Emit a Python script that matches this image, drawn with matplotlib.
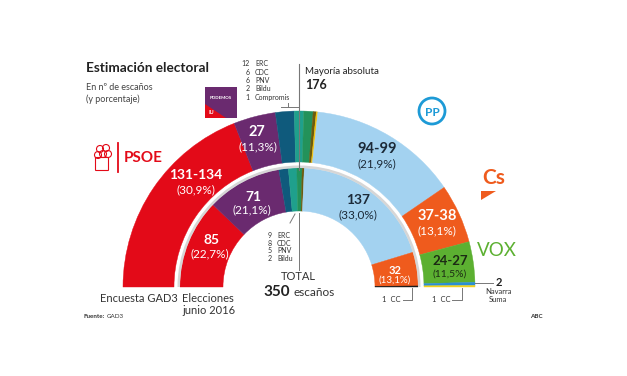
import matplotlib.pyplot as plt
from matplotlib.patches import Wedge, Circle, Rectangle, Polygon, FancyBboxPatch

plt.rcParams['font.family'] = ['Lato', 'DejaVu Sans']

# seats per party, left to right along the arc (350 in total)
outer_parties = ['PSOE', 'Podemos', 'ERC', 'CDC', 'PNV', 'Bildu', 'Compromis', 'PP', 'Cs', 'VOX', 'Navarra Suma', 'CC']
outer_seats = [133, 27, 12, 6, 6, 2, 1, 96, 38, 26, 2, 1]
outer_colors = ['#e30a18', '#6a2a6f', '#0f5a7c', '#1fa08c', '#23925a', '#6c5b0e', '#f4c20d',
                '#a3d2f0', '#ef5b1d', '#5cb031', '#2a8fd3', '#f3d21b']

inner_parties = ['PSOE', 'Podemos', 'ERC', 'CDC', 'PNV', 'Bildu', 'PP', 'Cs', 'CC']
inner_seats = [85, 71, 9, 8, 5, 2, 137, 32, 1]
inner_colors = ['#e30a18', '#6a2a6f', '#0f5a7c', '#1fa08c', '#23925a', '#6c5b0e',
                '#a3d2f0', '#ef5b1d', '#1a1a1a']

total = 350

# labels
outer_nat = ['12  ERC', '6  CDC', '6  PNV', '2  Bildu', '1  Compromis']
inner_nat = ['9  ERC', '8  CDC', '5  PNV', '2  Bildu']

fig = plt.figure(figsize=(6.27, 3.76), dpi=100)
ax = fig.add_axes([0, 0, 1, 1])
ax.set_xlim(0, 627)
ax.set_ylim(376, 0)
ax.axis('off')

cx, cy = 299, 287


def draw_ring(seats, colors, r_out, width):
    start = 0
    for s, c in zip(seats, colors):
        t1 = 180 + start / total * 180
        t2 = 180 + (start + s) / total * 180
        ax.add_patch(Wedge((cx, cy), r_out, t1, t2, width=width,
                           facecolor=c, edgecolor=c, linewidth=0.3))
        start += s


draw_ring(outer_seats, outer_colors, 176, 51)
draw_ring(inner_seats, inner_colors, 119, 43)
# soft shade around the inner ring
ax.add_patch(Wedge((cx, cy), 121.5, 180, 360, width=2.5, facecolor='#d6d6d6', edgecolor='none'))

# title
ax.text(86, 68, 'Estimación electoral', fontsize=9.8, fontweight='bold', color='#222222', va='center')
ax.text(86, 88, 'En nº de escaños', fontsize=6.5, color='#444444', va='center')
ax.text(86, 99, '(y porcentaje)', fontsize=6.5, color='#444444', va='center')

# nationalists list (top)
for i, t in enumerate(outer_nat):
    n, name = t.split('  ')
    ax.text(250, 64 + i * 8.3, n, fontsize=5, color='#333333', ha='right', va='center')
    ax.text(255, 64 + i * 8.3, name, fontsize=5, color='#333333', ha='left', va='center')
ax.plot([281, 298], [107, 107], color='#777777', lw=0.7)
ax.plot([288, 288], [107, 103], color='#777777', lw=0.7)

# absolute majority
ax.plot([299, 299], [64, 170], color='#777777', lw=0.8, zorder=5)
ax.text(305, 71, 'Mayoría absoluta', fontsize=7, color='#222222', va='center')
ax.text(305, 85, '176', fontsize=9, fontweight='bold', color='#222222', va='center')

# Podemos logo
ax.add_patch(Rectangle((205, 87), 32, 31, facecolor='#6a2a6f', edgecolor='none'))
ax.add_patch(Polygon([(205, 104), (226, 118), (205, 118)], facecolor='#e30a18', edgecolor='none'))
ax.text(221, 98, 'PODEMOS', fontsize=3.2, color='white', fontweight='bold', ha='center', va='center')
ax.text(211, 113, 'IU', fontsize=4, color='white', fontweight='bold', ha='center', va='center')

# PSOE logo
for (x, y) in [(100, 149), (106, 148), (103, 154), (98, 155), (108, 154)]:
    ax.add_patch(Circle((x, y), 3.5, facecolor='none', edgecolor='#e30a18', lw=0.8))
ax.add_patch(FancyBboxPatch((96, 158), 12, 12, boxstyle='round,pad=0.5',
                            facecolor='none', edgecolor='#e30a18', lw=0.8))
ax.plot([118, 118], [143, 172], color='#e30a18', lw=1.3)
ax.text(124, 158, 'PSOE', fontsize=11, fontweight='bold', color='#e30a18', va='center')

# PP logo
ax.add_patch(Circle((432, 111), 13, facecolor='white', edgecolor='#1d9ad6', lw=2))
ax.text(432, 112, 'PP', fontsize=8.5, fontweight='bold', color='#1d9ad6', ha='center', va='center')

# Cs logo
ax.text(494, 178, 'Cs', fontsize=15, fontweight='bold', color='#ef5b1d', ha='center', va='center')
ax.add_patch(Polygon([(481, 191), (496, 191), (481, 200)], facecolor='#ef5b1d', edgecolor='none'))

# VOX logo
ax.text(497, 250, 'VOX', fontsize=13.5, color='#5cb031', ha='center', va='center')

# segment labels
white = 'white'
dark = '#1c2a38'
seg_labels = [
    ('131-134', 196, 175, 10, 'bold', white), ('(30,9%)', 196, 190, 8.5, 'normal', white),
    ('27', 257, 132, 10.5, 'bold', white), ('(11,3%)', 258, 147, 8.5, 'normal', white),
    ('94-99', 377, 149, 10.5, 'bold', dark), ('(21,9%)', 377, 164, 8.5, 'normal', dark),
    ('37-38', 437, 216, 10.5, 'bold', white), ('(13,1%)', 437, 231, 8.5, 'normal', white),
    ('24-27', 450, 261, 9.5, 'bold', '#1c2a14'), ('(11,5%)', 450, 274, 7.5, 'normal', '#1c2a14'),
    ('85', 212, 240, 10, 'bold', white), ('(22,7%)', 210, 254, 8.5, 'normal', white),
    ('71', 253, 197, 10, 'bold', white), ('(21,1%)', 252, 210, 8.5, 'normal', white),
    ('137', 358, 200, 10, 'bold', dark), ('(33,0%)', 358, 215, 8.5, 'normal', dark),
    ('32', 395, 270, 8, 'bold', white), ('(13,1%)', 395, 280, 7, 'normal', white),
]
for t, x, y, fs, fw, c in seg_labels:
    ax.text(x, y, t, fontsize=fs, fontweight=fw, color=c, ha='center', va='center')

# inner nationalists list
for i, t in enumerate(inner_nat):
    n, name = t.split('  ')
    ax.text(272, 236 + i * 7.4, n, fontsize=5, color='#333333', ha='right', va='center')
    ax.text(277, 236 + i * 7.4, name, fontsize=5, color='#333333', ha='left', va='center')
ax.plot([295, 290], [214, 223], color='#777777', lw=0.7)
ax.plot([299, 299], [213, 270], color='#777777', lw=0.7)

# ring names and total
ax.text(178, 298, 'Encuesta GAD3', fontsize=8, color='#333333', ha='right', va='center')
ax.text(182, 298, 'Elecciones', fontsize=8, color='#333333', ha='left', va='center')
ax.text(182, 310, 'junio 2016', fontsize=8, color='#333333', ha='left', va='center')
ax.text(298, 277, 'TOTAL', fontsize=8, color='#333333', ha='center', va='center')
ax.text(290, 292, '350', fontsize=11, fontweight='bold', color='#222222', ha='right', va='center')
ax.text(293, 293, 'escaños', fontsize=8.5, color='#333333', ha='left', va='center')

# CC / Navarra Suma callouts
ax.text(401, 300, '1  CC', fontsize=5.5, color='#333333', ha='right', va='center')
ax.plot([403, 412, 412], [300, 300, 288], color='#777777', lw=0.7)
ax.text(450, 300, '1  CC', fontsize=5.5, color='#333333', ha='right', va='center')
ax.plot([452, 462, 462], [300, 300, 288], color='#777777', lw=0.7)
ax.plot([475, 493], [283, 283], color='#777777', lw=0.7)
ax.text(499, 283, '2', fontsize=8, fontweight='bold', color='#222222', ha='center', va='center')
ax.text(498, 292, 'Navarra', fontsize=5.5, color='#333333', ha='center', va='center')
ax.text(498, 300, 'Suma', fontsize=5.5, color='#333333', ha='center', va='center')

# footer
ax.text(84, 317, 'Fuente:', fontsize=4.5, fontweight='bold', color='#333333', va='center')
ax.text(106.5, 317, 'GAD3', fontsize=4.5, color='#333333', va='center')
ax.text(536, 316, 'ABC', fontsize=4.5, fontweight='bold', color='#333333', ha='center', va='center')

fig.savefig('out.png', dpi=100, facecolor='white')
